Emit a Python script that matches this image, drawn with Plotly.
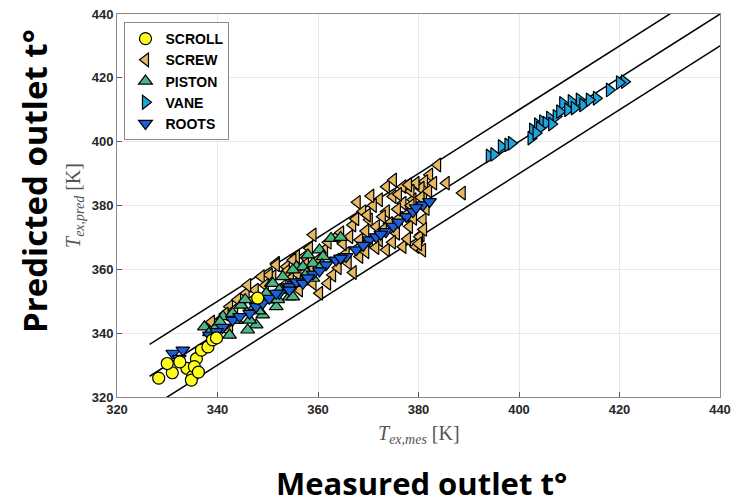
import plotly.graph_objects as go

# ---- data ----
scroll_pts = [(328.3, 325.9), (331.0, 327.6), (330.0, 330.5), (333.9, 329.0), (335.0, 326.4),
              (335.8, 332.0), (336.8, 334.7), (338.1, 335.7), (339.0, 337.9), (335.4, 329.5),
              (334.8, 325.3), (339.8, 338.5), (348.0, 351.0), (332.5, 331.0), (336.2, 327.8)]

screw_pts = [(383.8, 392.7), (385.5, 387.0), (388.7, 383.9), (382.2, 389.6), (381.2, 387.5),
             (380.5, 385.4), (379.5, 387.0), (376.9, 385.9), (373.6, 385.9), (372.2, 381.8),
             (374.9, 382.8), (376.9, 380.7), (378.9, 381.8), (368.9, 378.1), (370.2, 375.5),
             (373.6, 378.1), (371.6, 373.4), (374.2, 374.4), (375.6, 371.3), (378.2, 373.4),
             (380.5, 370.8), (380.9, 375.5), (366.9, 373.9), (366.3, 370.2), (368.3, 369.2),
             (370.2, 368.7), (372.2, 369.2), (373.6, 366.1), (376.9, 367.1), (379.5, 367.1),
             (380.2, 370.2), (359.0, 370.8), (363.6, 370.2), (361.3, 366.1), (358.3, 366.6),
             (357.3, 364.0), (363.6, 362.9), (365.6, 365.0), (368.3, 364.0), (362.9, 358.2),
             (361.9, 355.6), (359.0, 355.6), (355.7, 364.0), (353.7, 360.8), (351.7, 361.9),
             (351.0, 357.7), (353.0, 354.6), (356.3, 353.5), (360.3, 352.5), (351.7, 361.4),
             (350.3, 358.2), (348.7, 357.7), (345.7, 352.5), (345.0, 349.4), (342.4, 348.3),
             (339.7, 340.0), (342.4, 340.5), (353.7, 359.3), (355.0, 362.9), (340.0, 343.5),
             (343.4, 347.3), (347.0, 350.4), (377.5, 377.0), (379.0, 378.5), (381.0, 383.0),
             (375.0, 388.0), (372.8, 376.5), (369.5, 372.0), (364.5, 371.5), (367.0, 359.0),
             (377.8, 369.5), (380.8, 366.0), (378.5, 384.5), (380.0, 368.0), (381.0, 372.5),
             (379.0, 376.0), (381.5, 379.0), (380.5, 382.5), (378.0, 386.5),
             (371.0, 380.0), (369.8, 377.0), (367.5, 375.8), (365.0, 368.0), (362.0, 368.5),
             (360.0, 363.0), (357.5, 361.5), (356.0, 358.5), (354.5, 357.0), (349.5, 355.0),
             (347.5, 353.5), (346.0, 355.0), (344.0, 350.5), (341.5, 346.0), (338.8, 343.5),
             (364.0, 360.5), (366.0, 362.0), (369.5, 365.5), (371.5, 366.8), (374.8, 368.5),
             (376.2, 376.0), (378.5, 380.0), (382.0, 384.5), (383.0, 387.0), (376.0, 383.5),
             (373.0, 372.5), (375.8, 378.8), (367.8, 381.0), (370.5, 383.0), (358.5, 359.5)]

piston_pts = [(337.4, 342.0), (339.9, 342.3), (338.4, 340.2), (341.1, 345.2), (343.0, 346.2),
              (344.7, 348.8), (347.7, 342.6), (346.4, 344.1), (349.0, 345.7), (350.3, 350.4),
              (351.7, 348.3), (350.7, 355.6), (352.7, 353.5), (354.3, 351.4), (355.7, 360.8),
              (355.7, 355.6), (349.7, 352.5), (347.4, 348.3), (348.7, 350.4), (362.6, 369.7),
              (360.3, 366.1), (361.0, 364.0), (359.0, 361.9), (357.0, 360.8), (355.0, 359.8),
              (353.0, 357.7), (351.0, 355.6), (352.3, 353.5), (354.3, 354.6), (356.7, 356.1),
              (359.0, 357.2), (355.0, 351.4), (342.4, 339.4), (346.0, 341.0), (364.5, 370.0),
              (358.0, 364.5), (345.5, 350.5), (340.5, 343.5), (343.8, 344.0), (348.2, 347.0),
              (352.0, 350.5), (357.8, 358.8), (360.8, 361.5)]

vane_pts = [(394.1, 395.5), (396.5, 398.5), (397.8, 399.0), (402.7, 403.7), (402.4, 401.1),
            (403.7, 405.3), (404.7, 406.3), (406.1, 407.4), (407.4, 407.9), (408.7, 412.0),
            (408.1, 409.4), (410.4, 412.6), (412.0, 413.1), (412.7, 411.5), (415.4, 413.6),
            (418.0, 416.2), (421.0, 418.8), (409.7, 410.0), (411.0, 410.5), (405.4, 405.8),
            (404.1, 404.2), (403.4, 402.7), (414.0, 413.1), (398.5, 399.5), (395.0, 396.0),
            (406.5, 405.5), (420.0, 418.5)]

roots_pts = [(331.1, 333.7), (333.1, 334.7), (332.4, 332.1), (338.4, 339.4), (343.0, 344.1),
             (346.4, 346.2), (344.4, 345.2), (347.7, 348.3), (349.0, 349.4), (350.3, 350.9),
             (352.3, 352.5), (354.3, 354.6), (355.7, 356.1), (351.7, 352.5), (354.3, 353.5),
             (357.0, 355.6), (361.6, 361.4), (363.6, 362.9), (365.6, 364.0), (367.6, 366.1),
             (370.2, 369.2), (371.6, 370.2), (377.6, 376.5), (378.9, 378.1), (380.9, 380.2),
             (382.2, 381.2), (359.0, 358.5), (360.3, 359.5), (369.0, 367.5), (373.5, 371.8),
             (375.0, 373.5), (376.0, 374.8), (341.0, 341.8), (339.8, 340.5), (358.0, 357.3),
             (364.5, 363.5), (372.5, 371.0), (379.5, 379.3)]

ref_offsets = [10, 0, -10]          # +/-10 K band and identity line
ref_x = [326.5, 450.0]
ticks = [320, 340, 360, 380, 400, 420, 440]

# ---- figure ----
fig = go.Figure()

for off in ref_offsets:
    fig.add_trace(go.Scatter(x=ref_x, y=[v + off for v in ref_x], mode="lines",
                             line=dict(color="black", width=1.5), showlegend=False,
                             hoverinfo="skip"))

series = [
    ("SCREW", screw_pts, "triangle-left", "#E6B862", 2),
    ("PISTON", piston_pts, "triangle-up", "#4CB783", 3),
    ("VANE", vane_pts, "triangle-right", "#20A4DC", 4),
    ("ROOTS", roots_pts, "triangle-down", "#1C5FDB", 5),
    ("SCROLL", scroll_pts, "circle", "#FFFF1E", 1),
]
for name, pts, sym, col, rank in series:
    xs, ys = zip(*pts)
    fig.add_trace(go.Scatter(x=list(xs), y=list(ys), mode="markers", name=name,
                             legendrank=rank,
                             marker=dict(symbol=sym, size=12, color=col,
                                         line=dict(color="black", width=1.2))))

axis_common = dict(range=[320, 440], tickvals=ticks, showgrid=True, gridcolor="#e8e8e8",
                   gridwidth=1, zeroline=False, showline=True, linecolor="#8a8a8a",
                   linewidth=1, mirror=True, ticks="inside", ticklen=5, tickcolor="#555",
                   automargin=False,
                   tickfont=dict(family="Liberation Sans", size=13, color="#262626",
                                 weight="bold"))
fig.update_xaxes(**axis_common)
fig.update_yaxes(**axis_common)

fig.update_layout(
    width=734, height=504,
    margin=dict(l=117, r=14, t=14, b=107, autoexpand=False),
    plot_bgcolor="white", paper_bgcolor="white",
    legend=dict(x=0.0124, y=0.979, xanchor="left", yanchor="top",
                bgcolor="white", bordercolor="#8a8a8a", borderwidth=1,
                font=dict(family="Liberation Sans", size=14, color="black", weight="bold"),
                tracegroupgap=0),
    annotations=[
        dict(text="<i>T</i><sub><i>ex,mes</i></sub> [K]", xref="paper", yref="paper",
             x=0.5, y=-0.099, xanchor="center", yanchor="middle", showarrow=False,
             font=dict(family="Liberation Serif", size=20, color="#555")),
        dict(text="<i>T</i><sub><i>ex,pred</i></sub> [K]", xref="paper", yref="paper",
             x=-0.0705, y=0.5, xanchor="center", yanchor="middle", textangle=-90,
             showarrow=False, font=dict(family="Liberation Serif", size=20, color="#555")),
        dict(text="<b>Predicted outlet t°</b>", xref="paper", yref="paper",
             x=-0.137, y=0.565, xanchor="center", yanchor="middle", textangle=-90,
             showarrow=False, font=dict(family="Open Sans", size=33, color="black")),
        dict(text="<b>Measured outlet t°</b>", xref="paper", yref="paper",
             x=0.505, y=-0.2245, xanchor="center", yanchor="middle",
             showarrow=False, font=dict(family="Open Sans", size=31, color="black")),
    ],
)

fig.write_html("out.html")
